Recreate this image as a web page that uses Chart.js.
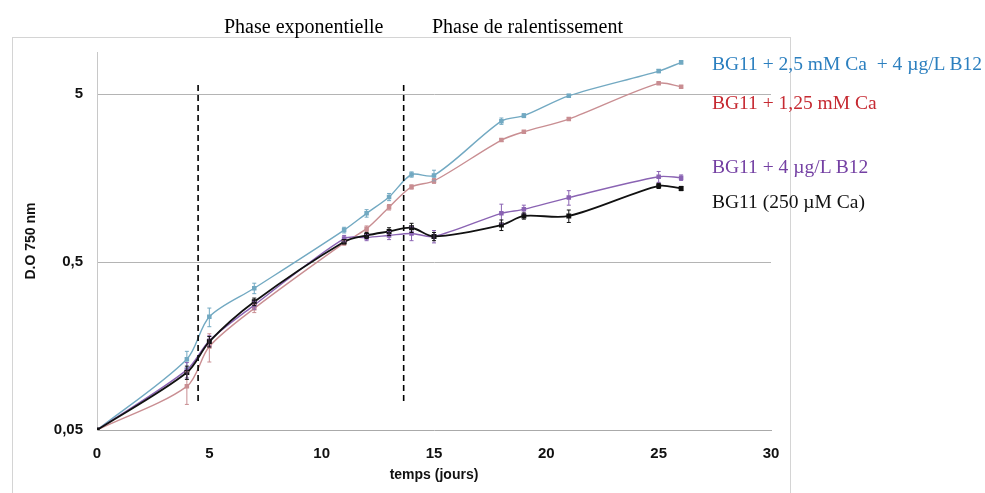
<!DOCTYPE html>
<html>
<head>
<meta charset="utf-8">
<script src="https://cdn.jsdelivr.net/npm/chart.js@4.4.1/dist/chart.umd.min.js"></script>
<style>
  html, body { margin: 0; padding: 0; background: #fff; }
  #wrap { position: relative; width: 985px; height: 493px; overflow: hidden; }
  #frame { position: absolute; left: 12px; top: 37px; width: 777px; height: 480px; border: 1px solid #d4d4d4; }
  canvas { position: absolute; left: 0; top: 0; }
  .txt { position: absolute; font-family: "Liberation Serif", "DejaVu Serif", serif; font-size: 19.5px; white-space: pre; line-height: 1; }
</style>
</head>
<body>
<div id="wrap">
  <div id="frame"></div>
  <canvas id="growthChart" width="985" height="493"></canvas>
  <div class="txt" style="left:224px; top:16px; font-size:20px;">Phase exponentielle</div>
  <div class="txt" style="left:432px; top:16px; font-size:20px;">Phase de ralentissement</div>
  <div id="labels"></div>
</div>
<script>
// jours de mesure
const days = [0, 4, 5, 7, 11, 12, 13, 14, 15, 18, 19, 21, 25, 26];

// D.O 750 nm par condition
const caB12 = [0.05, 0.132, 0.236, 0.349, 0.775, 0.975, 1.22, 1.66, 1.64, 3.45, 3.72, 4.88, 6.85, 7.72];
const ca125 = [0.05, 0.091, 0.157, 0.265, 0.65, 0.79, 1.06, 1.40, 1.52, 2.66, 2.98, 3.55, 5.79, 5.53];
const b12 = [0.05, 0.114, 0.170, 0.277, 0.69, 0.70, 0.72, 0.74, 0.71, 0.975, 1.03, 1.21, 1.61, 1.59];
const bg11 = [0.05, 0.110, 0.168, 0.290, 0.66, 0.72, 0.76, 0.80, 0.71, 0.83, 0.94, 0.94, 1.42, 1.37];

// barres d'erreur (±)
const errCaB12 = [0, 0.015, 0.03, 0.025, 0.03, 0.05, 0.06, 0.06, 0.12, 0.15, 0.1, 0.1, 0.15, 0.12];
const errCa125 = [0, 0.02, 0.03, 0.015, 0.02, 0.03, 0.04, 0.04, 0.05, 0.05, 0.05, 0.06, 0.08, 0.08];
const errB12 = [0, 0.012, 0.012, 0.015, 0.03, 0.03, 0.04, 0.07, 0.06, 0.13, 0.06, 0.12, 0.12, 0.06];
const errBg11 = [0, 0.01, 0.012, 0.015, 0.02, 0.03, 0.04, 0.05, 0.04, 0.06, 0.04, 0.08, 0.05, 0.04];

const seriesNames = ['BG11 + 2,5 mM Ca  + 4 µg/L B12', 'BG11 + 1,25 mM Ca', 'BG11 + 4 µg/L B12', 'BG11 (250 µM Ca)'];
const yTicks = [0.05, 0.5, 5];
const xTicks = [0, 5, 10, 15, 20, 25, 30];

// limites de phase (jours)
const phaseLimits = [4.5, 13.65];
const phaseSpan = [0.0704, 5.66];

const lineColors = ['#72a9c2', '#c98e92', '#8a63b3', '#111111'];
const textColors = ['#2b7fbf', '#c62a32', '#7440a3', '#111111'];
const labelTops = [54, 93, 157, 192];

const labelBox = document.getElementById('labels');
seriesNames.forEach((name, i) => {
    const d = document.createElement('div');
    d.className = 'txt';
    d.style.left = '712px';
    d.style.top = labelTops[i] + 'px';
    d.style.color = textColors[i];
    d.textContent = name;
    labelBox.appendChild(d);
});

const toPoints = (vals) => vals.map((v, i) => ({ x: days[i], y: v }));

const seriesData = [caB12, ca125, b12, bg11];
const seriesErr = [errCaB12, errCa125, errB12, errBg11];

const datasets = seriesData.map((vals, i) => ({
    label: seriesNames[i],
    data: toPoints(vals),
    errors: seriesErr[i],
    borderColor: lineColors[i],
    backgroundColor: lineColors[i],
    borderWidth: i === 3 ? 1.8 : 1.4,
    pointStyle: 'rect',
    pointRadius: 2.2,
    tension: 0.3,
    order: 3 - i
}));

phaseLimits.forEach((x) => {
    datasets.push({
        label: 'phase',
        data: [{ x: x, y: phaseSpan[1] }, { x: x, y: phaseSpan[0] }],
        borderColor: '#000',
        borderWidth: 1.6,
        borderDash: [6, 4],
        pointRadius: 0,
        tension: 0,
        errors: null
    });
});

const errorBars = {
    id: 'errorBars',
    afterDatasetsDraw(chart) {
        const ctx = chart.ctx;
        const ys = chart.scales.y;
        chart.data.datasets.forEach((ds, di) => {
            if (!ds.errors) return;
            const meta = chart.getDatasetMeta(di);
            ctx.save();
            ctx.strokeStyle = ds.borderColor;
            ctx.lineWidth = 1;
            meta.data.forEach((pt, i) => {
                const e = ds.errors[i];
                if (!e) return;
                const v = ds.data[i].y;
                const top = ys.getPixelForValue(v + e);
                const bot = ys.getPixelForValue(Math.max(v - e, 0.0001));
                ctx.beginPath();
                ctx.moveTo(pt.x, top); ctx.lineTo(pt.x, bot);
                ctx.moveTo(pt.x - 2, top); ctx.lineTo(pt.x + 2, top);
                ctx.moveTo(pt.x - 2, bot); ctx.lineTo(pt.x + 2, bot);
                ctx.stroke();
            });
            ctx.restore();
        });
    }
};

const ctx = document.getElementById('growthChart').getContext('2d');
new Chart(ctx, {
    type: 'line',
    data: { datasets: datasets },
    options: {
        responsive: false,
        animation: false,
        layout: { padding: { left: 0, right: 214, top: 52, bottom: 9 } },
        plugins: { legend: { display: false }, tooltip: { enabled: false } },
        scales: {
            x: {
                type: 'linear',
                min: 0,
                max: 30,
                afterBuildTicks: (s) => { s.ticks = xTicks.map(v => ({ value: v })); },
                afterFit: (s) => { s.height = 54; },
                grid: { display: false, drawTicks: true, tickLength: 4, tickColor: '#aaaaaa' },
                border: { display: true, color: '#aaaaaa', width: 1 },
                ticks: {
                    color: '#111',
                    padding: 11,
                    maxRotation: 0,
                    font: { family: 'Liberation Sans', size: 15, weight: 'bold' }
                },
                title: {
                    display: true,
                    text: 'temps (jours)',
                    color: '#111',
                    padding: { top: 0, bottom: 0 },
                    font: { family: 'Liberation Sans', size: 14, weight: 'bold' }
                }
            },
            y: {
                type: 'logarithmic',
                min: 0.05,
                max: 8.9,
                afterBuildTicks: (s) => { s.ticks = yTicks.map(v => ({ value: v })); },
                afterFit: (s) => { s.width = 97; },
                grid: {
                    color: (c) => c.tick && c.tick.value === 0.05 ? 'rgba(0,0,0,0)' : '#b4b4b4',
                    drawTicks: false
                },
                border: { display: true, color: '#c8c8c8', width: 1 },
                ticks: {
                    color: '#111',
                    padding: 14,
                    callback: (v) => String(v).replace('.', ','),
                    font: { family: 'Liberation Sans', size: 15, weight: 'bold' }
                },
                title: {
                    display: true,
                    text: 'D.O 750 nm',
                    color: '#111',
                    padding: { top: 23, bottom: 0 },
                    font: { family: 'Liberation Sans', size: 14, weight: 'bold' }
                }
            }
        }
    },
    plugins: [errorBars]
});
</script>
</body>
</html>
